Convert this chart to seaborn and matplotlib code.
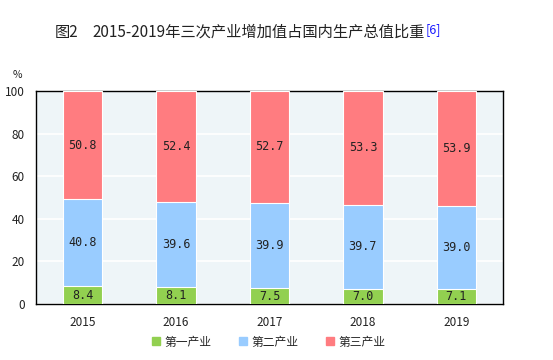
import matplotlib
matplotlib.use("Agg")
import matplotlib.pyplot as plt
from matplotlib.lines import Line2D
import seaborn as sns
import numpy as np
import pandas as pd

years = ["2015", "2016", "2017", "2018", "2019"]
primary = [8.4, 8.1, 7.5, 7.0, 7.1]
secondary = [40.8, 39.6, 39.9, 39.7, 39.0]
tertiary = [50.8, 52.4, 52.7, 53.3, 53.9]
series_names = ["第一产业", "第二产业", "第三产业"]
colors = ["#92D050", "#99CCFF", "#FF7C80"]
title_fig = "图2"
title_main = "2015-2019年三次产业增加值占国内生产总值比重"
yticks = [0, 20, 40, 60, 80, 100]

sns.set_style("white")
plt.rcParams['font.family'] = ['Noto Sans CJK SC', 'DejaVu Sans']

fig = plt.figure(figsize=(5.53, 3.6), dpi=100)
ax = fig.add_axes([36/553, 56/360, 467/553, 213/360])
ax.set_facecolor("#EEF5F8")

p = np.array(primary)
s = np.array(secondary)
t = np.array(tertiary)
c1 = p
c2 = p + s
c3 = p + s + t

for cum, col in zip([c3, c2, c1], colors[::-1]):
    df = pd.DataFrame({"year": years, "v": cum})
    sns.barplot(data=df, x="year", y="v", color=col, width=0.42, ax=ax,
                edgecolor="white", linewidth=0.8, saturation=1, zorder=3)

ax.set_ylim(0, 100)
ax.set_xlim(-0.5, 4.5)
ax.set_yticks(yticks)
ax.yaxis.grid(True, color="white", linewidth=1.2, zorder=1)
ax.set_axisbelow(True)
ax.set_xlabel("")
ax.set_ylabel("")
for sp in ax.spines.values():
    sp.set_visible(True)
    sp.set_color("black")
    sp.set_linewidth(1.0)

ax.tick_params(axis="y", length=0, pad=8, labelsize=8.5, colors="#222222")
ax.tick_params(axis="x", which="major", length=0, pad=9, labelsize=8.5, colors="#222222")
ax.set_xticks([0.5, 1.5, 2.5, 3.5], minor=True)
ax.tick_params(axis="x", which="minor", length=4, direction="out", width=0.8)

mono = ["DejaVu Sans Mono"]
for i in range(len(years)):
    for bot, val in [(0, p[i]), (c1[i], s[i]), (c2[i], t[i])]:
        ax.text(i, bot + val / 2, f"{val:.1f}", ha="center", va="center",
                fontsize=8.5, family=mono, color="#222222", zorder=5)

tf = fig.text(55/553, 1 - 32/360, title_fig, ha="left", va="center", fontsize=11, color="#222222")
tt = fig.text(92/553, 1 - 32/360, title_main, ha="left", va="center", fontsize=11, color="#222222")
ax.annotate("[6]", xy=(1.0, 1.05), xycoords=tt, xytext=(1, 0), textcoords="offset points",
            ha="left", va="top", fontsize=9, color="#1a1aff")

fig.text(17/553, 1 - 75/360, "%", ha="center", va="center", fontsize=7.5, color="#222222")

handles = [Line2D([], [], marker="s", linestyle="none", markersize=6,
                  markerfacecolor=c, markeredgecolor=c) for c in colors]
fig.legend(handles, series_names, loc="center", bbox_to_anchor=(268/553, 1 - 342/360),
           ncol=3, frameon=False, fontsize=8.5, handletextpad=0.2, columnspacing=2.2,
           handlelength=1.0)

fig.savefig("out.png", dpi=100)
